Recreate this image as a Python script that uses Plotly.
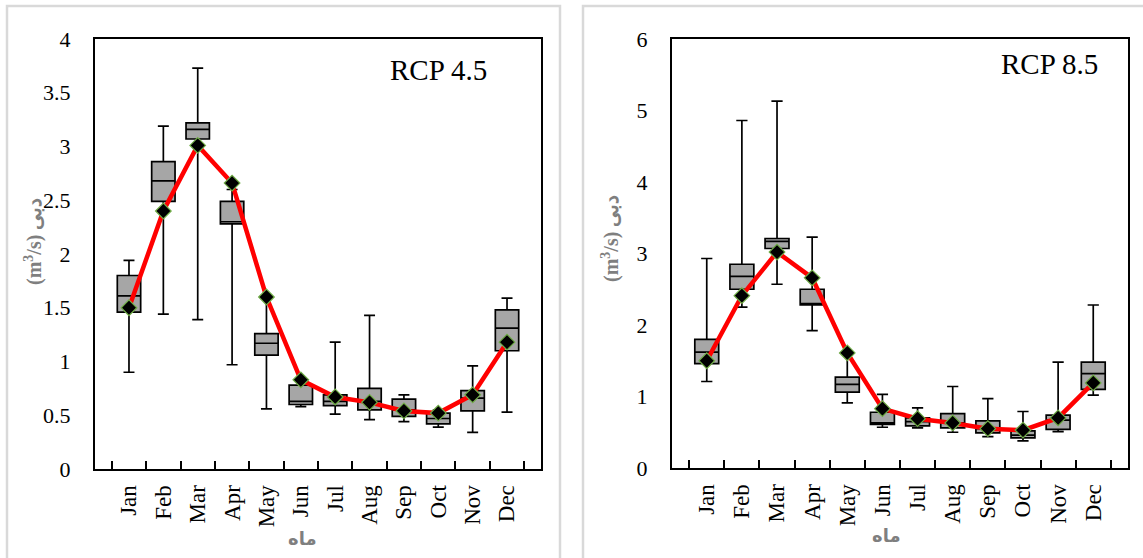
import plotly.graph_objects as go

months = ["Jan", "Feb", "Mar", "Apr", "May", "Jun", "Jul", "Aug", "Sep", "Oct", "Nov", "Dec"]

# RCP 4.5
r45_min = [0.90, 1.44, 1.39, 0.97, 0.56, 0.58, 0.51, 0.46, 0.44, 0.39, 0.34, 0.53]
r45_q1 = [1.46, 2.49, 3.07, 2.28, 1.06, 0.60, 0.59, 0.55, 0.49, 0.42, 0.54, 1.10]
r45_med = [1.61, 2.68, 3.16, 2.30, 1.17, 0.63, 0.63, 0.63, 0.55, 0.47, 0.66, 1.31]
r45_q3 = [1.80, 2.86, 3.22, 2.49, 1.26, 0.78, 0.69, 0.75, 0.65, 0.52, 0.73, 1.48]
r45_max = [1.94, 3.19, 3.73, 2.60, 1.60, 0.83, 1.18, 1.43, 0.69, 0.55, 0.96, 1.59]
r45_obs = [1.50, 2.40, 3.01, 2.66, 1.60, 0.83, 0.67, 0.62, 0.54, 0.52, 0.69, 1.18]

# RCP 8.5
r85_min = [1.21, 2.25, 2.57, 1.92, 0.91, 0.57, 0.56, 0.50, 0.44, 0.38, 0.51, 1.02]
r85_q1 = [1.46, 2.50, 3.07, 2.28, 1.06, 0.61, 0.59, 0.56, 0.49, 0.42, 0.54, 1.10]
r85_med = [1.62, 2.68, 3.17, 2.30, 1.17, 0.63, 0.65, 0.63, 0.55, 0.46, 0.67, 1.32]
r85_q3 = [1.80, 2.85, 3.21, 2.50, 1.27, 0.78, 0.70, 0.76, 0.66, 0.52, 0.74, 1.48]
r85_max = [2.93, 4.86, 5.13, 3.23, 1.60, 1.03, 0.84, 1.14, 0.97, 0.79, 1.48, 2.28]
r85_obs = [1.50, 2.41, 3.02, 2.66, 1.61, 0.83, 0.69, 0.63, 0.55, 0.53, 0.70, 1.19]

W, H = 1143, 558
SERIF = "Liberation Serif, Times New Roman, serif"

fig = go.Figure()

def add_panel(q1, med, q3, lo, hi, obs, xa, ya):
    fig.add_trace(go.Box(
        x=months, q1=q1, median=med, q3=q3, lowerfence=lo, upperfence=hi,
        fillcolor="#a6a6a6", line=dict(color="black", width=1.7),
        whiskerwidth=0.47, width=0.68, boxpoints=False,
        xaxis=xa, yaxis=ya, showlegend=False, hoverinfo="skip"))
    fig.add_trace(go.Scatter(
        x=months, y=obs, mode="lines+markers",
        line=dict(color="#ff0000", width=4.5),
        marker=dict(symbol="diamond", size=12, color="black",
                    line=dict(color="#70ad47", width=1.2)),
        xaxis=xa, yaxis=ya, showlegend=False, hoverinfo="skip"))

add_panel(r45_q1, r45_med, r45_q3, r45_min, r45_max, r45_obs, "x", "y")
add_panel(r85_q1, r85_med, r85_q3, r85_min, r85_max, r85_obs, "x2", "y2")

def xax(domain):
    return dict(domain=domain, type="category", categoryorder="array", categoryarray=months,
                tickson="boundaries", ticks="inside", ticklen=8, tickwidth=1.5, tickcolor="black",
                tickangle=-90, tickfont=dict(family=SERIF, size=23, color="black"),
                showline=True, linecolor="black", linewidth=2, mirror=True, automargin=False,
                showgrid=False, zeroline=False, ticklabelstandoff=5, fixedrange=True)

def yax(domain, rng, dt, anchor):
    return dict(domain=domain, range=rng, dtick=dt, anchor=anchor, automargin=False,
                tickfont=dict(family=SERIF, size=22, color="black"),
                showline=True, linecolor="black", linewidth=2, mirror=True,
                showgrid=False, zeroline=False, ticks="", ticklabelstandoff=18, fixedrange=True)

x1d = [95 / W, 541 / W]
x2d = [672 / W, 1128 / W]
y1d = [1 - 469 / H, 1 - 39 / H]
y2d = [1 - 468 / H, 1 - 39 / H]

fig.update_layout(
    width=W, height=H, margin=dict(l=0, r=0, t=0, b=0, pad=0, autoexpand=False),
    paper_bgcolor="white", plot_bgcolor="white", showlegend=False,
    xaxis=dict(**xax(x1d), anchor="y"),
    yaxis=yax(y1d, [0, 4], 0.5, "x"),
    xaxis2=dict(**xax(x2d), anchor="y2"),
    yaxis2=yax(y2d, [0, 6], 1, "x2"),
)

# panel frames
for x0, x1 in [(7, 560), (583, 1150)]:
    fig.add_shape(type="rect", xref="paper", yref="paper",
                  x0=x0 / W, x1=x1 / W, y0=-0.05, y1=1 - 6 / H,
                  line=dict(color="#d9d9d9", width=2.5), layer="below")

def ann(text, x, y, size, color="black", bold=False, angle=0, family=SERIF):
    if bold:
        text = "<b>" + text + "</b>"
    fig.add_annotation(text=text, x=x / W, y=1 - y / H, xref="paper", yref="paper",
                       showarrow=False, textangle=angle,
                       font=dict(family=family, size=size, color=color),
                       xanchor="center", yanchor="middle")

ann("RCP 4.5", 438, 70, 29)
ann("RCP 8.5", 1049, 64, 29)
ytitle = "(m<sup>3</sup>/s) دبی"
ann(ytitle, 33, 242, 20, color="#7f7f7f", bold=True, angle=-90)
ann(ytitle, 610, 239, 20, color="#7f7f7f", bold=True, angle=-90)
ann("ماه", 302, 538, 18, color="#7f7f7f", bold=True, family="Noto Sans, DejaVu Sans, sans-serif")
ann("ماه", 886, 535, 18, color="#7f7f7f", bold=True, family="Noto Sans, DejaVu Sans, sans-serif")

fig.write_html(
    "out.html",
    config={"displayModeBar": False, "responsive": False},
    post_script="document.documentElement.style.margin='0';document.body.style.margin='0';"
                "document.body.style.padding='0';document.body.style.overflow='hidden';",
)
